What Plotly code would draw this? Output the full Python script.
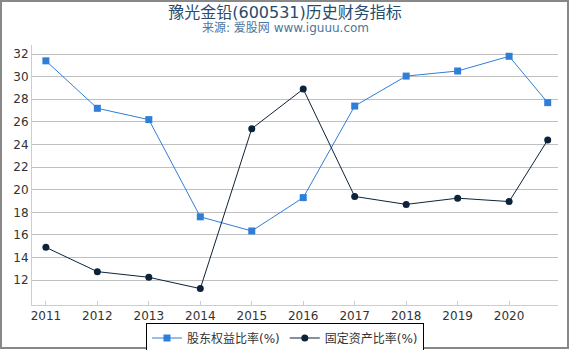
import plotly.graph_objects as go

years = [2011, 2012, 2013, 2014, 2015, 2016, 2017, 2018, 2019, 2020, 2020.75]
equity_ratio = [31.4, 27.2, 26.2, 17.6, 16.35, 19.3, 27.4, 30.05, 30.5, 31.8, 27.7]
fixed_asset_ratio = [14.9, 12.75, 12.25, 11.25, 25.4, 28.9, 19.4, 18.7, 19.25, 18.95, 24.4]
tick_years = [2011, 2012, 2013, 2014, 2015, 2016, 2017, 2018, 2019, 2020]
y_ticks = [12, 14, 16, 18, 20, 22, 24, 26, 28, 30, 32]

W, H = 570, 350
ml, mr, mt, mb = 32, 12, 45, 45
pw, ph = W - ml - mr, H - mt - mb

fig = go.Figure()
fig.add_trace(go.Scatter(x=years, y=equity_ratio, name="股东权益比率(%)", mode="lines+markers",
                         line=dict(color="#2f7ed8", width=1),
                         marker=dict(symbol="square", size=7, color="#2f7ed8")))
fig.add_trace(go.Scatter(x=years, y=fixed_asset_ratio, name="固定资产比率(%)", mode="lines+markers",
                         line=dict(color="#0d233a", width=1),
                         marker=dict(symbol="circle", size=7, color="#0d233a")))

fig.update_layout(
    width=W, height=H,
    margin=dict(l=ml, r=mr, t=mt, b=mb, autoexpand=False),
    paper_bgcolor="white", plot_bgcolor="white",
    font=dict(family="DejaVu Sans, Noto Sans CJK SC", size=12, color="#333333"),
    title=dict(text="豫光金铅(600531)历史财务指标", x=0.5, xanchor="center", y=1 - 12/H, yanchor="middle",
               font=dict(size=16, color="#274b6d")),
    annotations=[dict(text="来源: 爱股网 www.iguuu.com", xref="paper", yref="paper",
                      x=(W / 2 - ml) / pw, y=1 + (mt - 28) / ph, xanchor="center", yanchor="middle",
                      showarrow=False, font=dict(size=12, color="#4d759e"))],
    showlegend=True,
    legend=dict(orientation="h", x=0.5, xanchor="center", xref="container",
                y=1 - 338 / H, yanchor="middle", yref="container",
                bordercolor="#000000", borderwidth=1, font=dict(size=12, color="#333333"),
                itemwidth=30, tracegroupgap=0),
    xaxis=dict(range=[2010.73, 2020.95], tickvals=tick_years, ticktext=[str(y) for y in tick_years],
               showgrid=False, zeroline=False, showline=True, linecolor="#C0D0E0", linewidth=1,
               ticks="inside", ticklen=4, tickcolor="#C0D0E0", tickfont=dict(size=12, color="#333333")),
    yaxis=dict(range=[9.8, 32.8], tickvals=y_ticks, showgrid=True, gridcolor="#C0C0C0", gridwidth=1,
               zeroline=False, showline=True, linecolor="#C0D0E0", linewidth=1,
               ticks="", tickfont=dict(size=12, color="#333333")),
    shapes=[dict(type="rect", xref="paper", yref="paper",
                 x0=-(ml - 1) / pw, x1=1 + (mr - 2) / pw, y0=-(mb - 2) / ph, y1=1 + (mt - 1) / ph,
                 line=dict(color="#888888", width=2), layer="below")],
)

fig.write_html("out.html")
